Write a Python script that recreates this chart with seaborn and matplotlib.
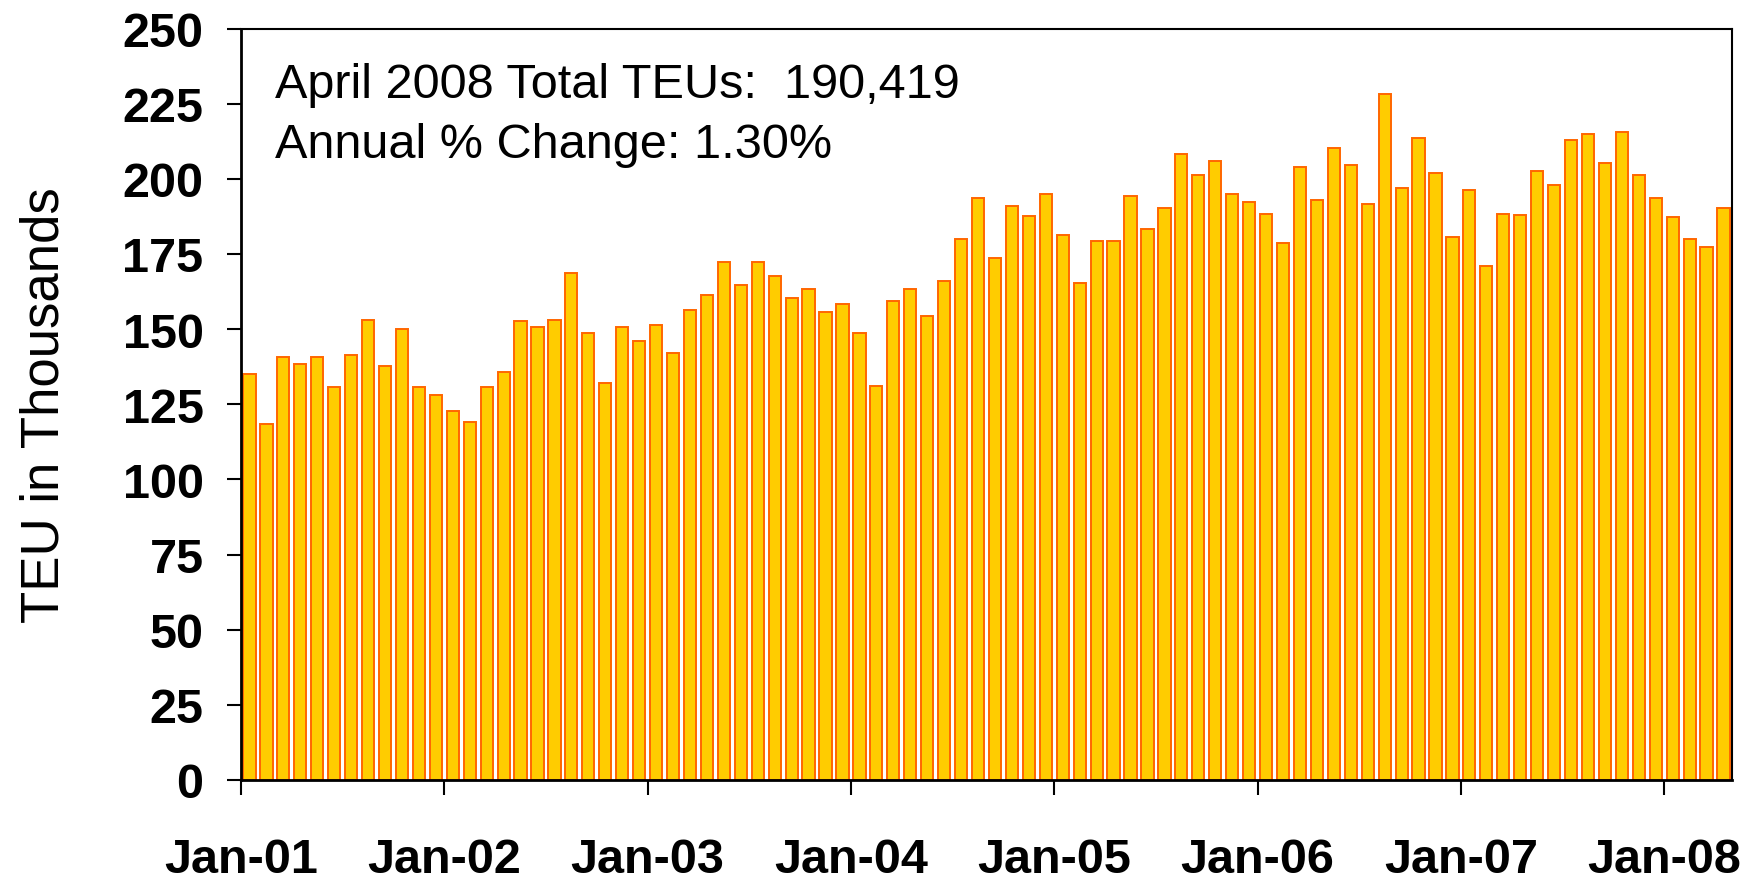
import matplotlib
matplotlib.use("Agg")
import matplotlib.pyplot as plt
import seaborn as sns
import pandas as pd

# ---- data ----
years = ["01", "02", "03", "04", "05", "06", "07", "08"]
months = ["Jan", "Feb", "Mar", "Apr", "May", "Jun", "Jul", "Aug", "Sep", "Oct", "Nov", "Dec"]
teu_2001 = [135.1, 118.4, 140.8, 138.3, 140.8, 130.6, 141.5, 153.1, 137.7, 149.9, 130.6, 128.1]
teu_2002 = [122.9, 119.0, 130.6, 135.7, 152.6, 150.6, 153.1, 168.6, 148.6, 132.0, 150.6, 146.0]
teu_2003 = [151.3, 142.2, 156.4, 161.4, 172.4, 164.7, 172.4, 167.8, 160.2, 163.4, 155.8, 158.2]
teu_2004 = [148.6, 131.2, 159.4, 163.4, 154.5, 165.9, 180.1, 193.5, 173.8, 191.1, 187.7, 194.8]
teu_2005 = [181.3, 165.3, 179.4, 179.4, 194.3, 183.4, 190.4, 208.4, 201.3, 205.8, 194.8, 192.4]
teu_2006 = [188.4, 178.7, 203.8, 192.9, 210.2, 204.6, 191.6, 228.3, 196.8, 213.5, 201.8, 180.7]
teu_2007 = [196.2, 171.1, 188.4, 187.8, 202.6, 198.0, 212.9, 214.8, 205.2, 215.5, 201.3, 193.6]
teu_2008 = [187.2, 180.0, 177.4, 190.419]
y_ticks = [0, 25, 50, 75, 100, 125, 150, 175, 200, 225, 250]
x_tick_labels = ["Jan-" + y for y in years]
note_lines = ["April 2008 Total TEUs:  190,419", "Annual % Change: 1.30%"]
y_title = "TEU in Thousands"

series = [teu_2001, teu_2002, teu_2003, teu_2004, teu_2005, teu_2006, teu_2007, teu_2008]
labels, values = [], []
for yr, vals in zip(years, series):
    for m, v in zip(months, vals):
        labels.append(f"{m}-{yr}")
        values.append(v)
df = pd.DataFrame({"month": labels, "teu": values})

# ---- plot ----
sns.set_theme(style="white")
plt.rcParams["font.family"] = ["Liberation Sans", "DejaVu Sans"]
plt.rcParams["text.color"] = "black"
plt.rcParams["axes.labelcolor"] = "black"
plt.rcParams["xtick.color"] = "black"
plt.rcParams["ytick.color"] = "black"

fig = plt.figure(figsize=(17.59, 8.87), dpi=100)
ax = fig.add_axes([241 / 1759, 1 - 781 / 887, (1732 - 241) / 1759, (781 - 29.5) / 887])

sns.barplot(data=df, x="month", y="teu", order=labels, color="#FFCC00",
            saturation=1, width=0.72, edgecolor="#FF6600", linewidth=1.4, ax=ax)

ax.set_xlim(-0.5, len(labels) - 0.5)
ax.set_ylim(0, 250)
ax.set_yticks(y_ticks)
ax.set_yticklabels([str(t) for t in y_ticks], fontsize=35, fontweight="bold", color="black")

jan_pos = [i - 0.5 for i, l in enumerate(labels) if l.startswith("Jan")]
ax.set_xticks(jan_pos)
ax.set_xticklabels(x_tick_labels, fontsize=35, fontweight="bold", color="black")

ax.tick_params(axis="y", direction="out", length=10, width=1.5, colors="black", pad=17, left=True)
ax.tick_params(axis="x", direction="out", length=11, width=1.5, colors="black", pad=30, bottom=True)

ax.set_xlabel("")
ax.set_ylabel(y_title, fontsize=38, labelpad=38, color="black")

for side, sp in ax.spines.items():
    sp.set_visible(True)
    sp.set_color("black")
    sp.set_linewidth(2.0 if side in ("left", "bottom") else 1.5)

ax.text(0.0228, 0.925, note_lines[0], transform=ax.transAxes, fontsize=35,
        va="center", ha="left", color="black")
ax.text(0.0228, 0.845, note_lines[1], transform=ax.transAxes, fontsize=35,
        va="center", ha="left", color="black")

fig.savefig("out.png", dpi=100)
